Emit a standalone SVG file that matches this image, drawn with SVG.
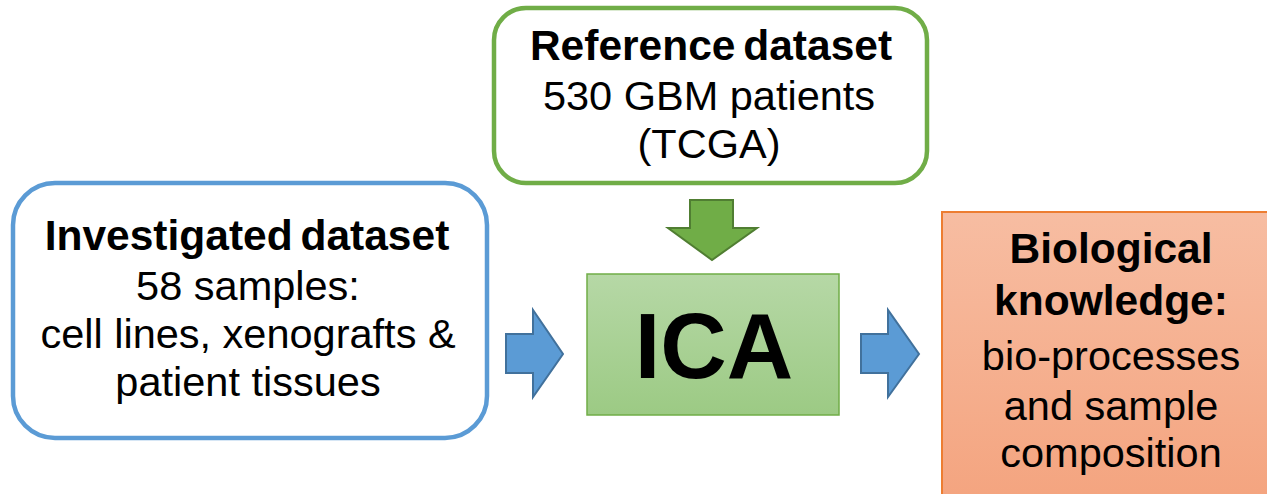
<svg xmlns="http://www.w3.org/2000/svg" width="1267" height="494" viewBox="0 0 1267 494">
<defs>
<linearGradient id="gG" x1="0" y1="0" x2="0" y2="1"><stop offset="0" stop-color="#B6D8A6"/><stop offset="1" stop-color="#9CCA84"/></linearGradient>
<linearGradient id="gO" x1="0" y1="0" x2="0" y2="1"><stop offset="0" stop-color="#F7BDA2"/><stop offset="1" stop-color="#F4A47F"/></linearGradient>
<style>
text{font-family:"Liberation Sans",Arial,sans-serif;fill:#000;text-anchor:middle;font-size:41.5px}
.b{font-weight:bold;font-size:42.5px;word-spacing:-4px}
.barr{fill:#5B9BD5;stroke:#41719C;stroke-width:2}
.garr{fill:#70AD47;stroke:#507E32;stroke-width:2}
</style>
</defs>
<rect width="1267" height="494" fill="#fff"/>
<g id="reference">
<rect x="494" y="8" width="433" height="175" rx="32" fill="#fff" stroke="#70AD47" stroke-width="4.5"/>
<text class="b" x="711" y="60">Reference dataset</text>
<text x="709" y="110">530 GBM patients</text>
<text x="709" y="158">(TCGA)</text>
</g>
<g id="investigated">
<rect x="13" y="183" width="474" height="255" rx="42" fill="#fff" stroke="#5B9BD5" stroke-width="4.5"/>
<text class="b" x="247" y="250">Investigated dataset</text>
<text x="248" y="300">58 samples:</text>
<text x="248" y="348">cell lines, xenografts &amp;</text>
<text x="248" y="396">patient tissues</text>
</g>
<g id="ica">
<rect x="587" y="274" width="252" height="141" fill="url(#gG)" stroke="#70AD47" stroke-width="1.5"/>
<text class="b" x="714" y="378" style="font-size:92px">ICA</text>
</g>
<g id="knowledge">
<rect x="942" y="212" width="340" height="290" fill="url(#gO)" stroke="#ED7D31" stroke-width="2"/>
<text class="b" x="1111" y="263">Biological</text>
<text class="b" x="1111" y="315">knowledge:</text>
<text x="1111" y="370">bio-processes</text>
<text x="1111" y="420">and sample</text>
<text x="1111" y="467">composition</text>
</g>
<g id="connectors">
<polygon class="garr" points="690,200 733,200 733,228 757,228 712,260 668,228 690,228"/>
<polygon class="barr" points="506,334 533,334 533,310 563,354 533,397 533,373 506,373"/>
<polygon class="barr" points="861,334 888,334 888,310 919,354 888,397 888,373 861,373"/>
</g>
</svg>
